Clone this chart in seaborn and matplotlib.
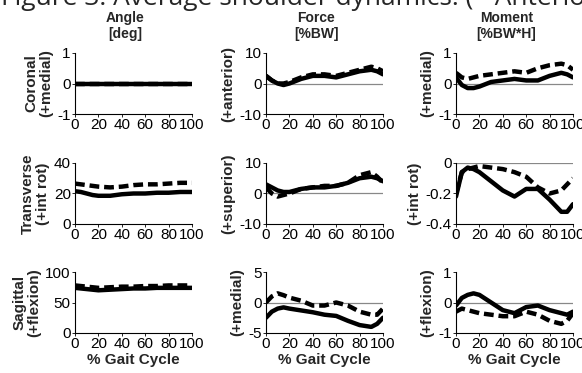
"""
Average shoulder dynamics: angle, force and moment curves over the gait cycle.
"""

import matplotlib
matplotlib.use("Agg")
import matplotlib.pyplot as plt
import seaborn as sns

sns.set_style("ticks")
plt.rcParams["font.family"] = ["Liberation Sans", "DejaVu Sans"]

# Data
GAIT = [0, 5, 10, 15, 20, 30, 40, 50, 60, 70, 80, 90, 95, 100]

ANG_COR_A = [0, 0, 0, 0, 0, 0, 0, 0, 0, 0, 0, 0, 0, 0]
ANG_COR_B = [0, 0, 0, 0, 0, 0, 0, 0, 0, 0, 0, 0, 0, 0]
ANG_TRA_A = [21.5, 21, 20, 19, 18.5, 18.5, 19.5, 20, 20, 20.5, 20.5, 21, 21, 21]
ANG_TRA_B = [26.5, 26, 25.5, 25, 24.5, 24, 24.5, 25.5, 26, 26, 26.5, 27, 27, 27]
ANG_SAG_A = [74, 73, 72, 71, 70, 71, 72, 73, 73, 74, 74, 74, 74, 74]
ANG_SAG_B = [78, 77, 76, 75, 74, 75, 76, 76, 77, 77, 78, 78, 78, 78]

FOR_COR_A = [2.5, 1, 0, -0.5, 0, 1.5, 2.5, 2.5, 2, 3, 4, 4.5, 4, 3]
FOR_COR_B = [2.5, 1, 0, 0, 0.5, 2, 3, 3, 2.5, 3.5, 4.5, 5.5, 5, 4]
FOR_TRA_A = [3, 2, 1, 0.5, 0.5, 1.5, 2, 2, 2.5, 3.5, 5, 5.5, 5, 4]
FOR_TRA_B = [2, 0, -1, -0.5, 0, 1.5, 2, 2.5, 2.5, 3.5, 6, 7, 5.5, 3.5]
FOR_SAG_A = [-2.5, -1.5, -1, -0.8, -1, -1.3, -1.6, -2, -2.2, -3, -3.7, -4, -3.5, -2.5]
FOR_SAG_B = [0, 1, 1.5, 1.2, 0.8, 0.3, -0.5, -0.5, 0, -0.5, -1.5, -2, -2, -1]

MOM_COR_A = [0.2, -0.05, -0.15, -0.15, -0.1, 0.05, 0.1, 0.15, 0.1, 0.1, 0.25, 0.35, 0.3, 0.2]
MOM_COR_B = [0.35, 0.2, 0.15, 0.2, 0.25, 0.3, 0.35, 0.4, 0.35, 0.5, 0.6, 0.65, 0.6, 0.45]
MOM_TRA_A = [-0.22, -0.06, -0.03, -0.04, -0.06, -0.12, -0.18, -0.22, -0.17, -0.17, -0.24, -0.32, -0.32, -0.27]
MOM_TRA_B = [-0.2, -0.06, -0.04, -0.03, -0.02, -0.03, -0.04, -0.06, -0.09, -0.16, -0.2, -0.18, -0.14, -0.1]
MOM_SAG_A = [-0.1, 0.15, 0.25, 0.3, 0.25, 0.0, -0.25, -0.35, -0.15, -0.1, -0.25, -0.35, -0.4, -0.3]
MOM_SAG_B = [-0.3, -0.2, -0.25, -0.3, -0.35, -0.4, -0.45, -0.45, -0.3, -0.4, -0.6, -0.7, -0.6, -0.35]

COL_HEADERS = ["Angle\n[deg]", "Force\n[%BW]", "Moment\n[%BW*H]"]
ROW_NAMES = ["Coronal", "Transverse", "Sagittal"]
Y_LABELS = [
    ["(+medial)", "(+anterior)", "(+medial)"],
    ["(+int rot)", "(+superior)", "(+int rot)"],
    ["(+flexion)", "(+medial)", "(+flexion)"],
]
Y_LIMS = [
    [(-1, 1), (-10, 10), (-1, 1)],
    [(0, 40), (-10, 10), (-0.4, 0)],
    [(0, 100), (-5, 5), (-1, 1)],
]
Y_TICKS = [
    [[-1, 0, 1], [-10, 0, 10], [-1, 0, 1]],
    [[0, 20, 40], [-10, 0, 10], [-0.4, -0.2, 0]],
    [[0, 50, 100], [-5, 0, 5], [-1, 0, 1]],
]
Y_TICKLABELS = [
    [["-1", "0", "1"], ["-10", "0", "10"], ["-1", "0", "1"]],
    [["0", "20", "40"], ["-10", "0", "10"], ["-0.4", "-0.2", "0"]],
    [["0", "50", "100"], ["-5", "0", "5"], ["-1", "0", "1"]],
]
SERIES = [
    [(ANG_COR_A, ANG_COR_B), (FOR_COR_A, FOR_COR_B), (MOM_COR_A, MOM_COR_B)],
    [(ANG_TRA_A, ANG_TRA_B), (FOR_TRA_A, FOR_TRA_B), (MOM_TRA_A, MOM_TRA_B)],
    [(ANG_SAG_A, ANG_SAG_B), (FOR_SAG_A, FOR_SAG_B), (MOM_SAG_A, MOM_SAG_B)],
]
X_TICKS = [0, 20, 40, 60, 80, 100]

W, H = 582, 373
fig = plt.figure(figsize=(W / 100, H / 100), dpi=100)
fig.patch.set_facecolor("white")

# axes geometry in pixels
lefts = [75, 266, 456]
tops = [53, 163, 272]
aw, ah = 117, 61

for r in range(3):
    for c in range(3):
        ax = fig.add_axes([lefts[c] / W, 1 - (tops[r] + ah) / H, aw / W, ah / H])
        sol, dash = SERIES[r][c]
        if c > 0:
            ax.axhline(0, color="#888888", lw=0.9, zorder=1)
        sns.lineplot(x=GAIT, y=dash, ax=ax, color="black", lw=3.2,
                     linestyle=(0, (2.2, 1.1)), zorder=3)
        sns.lineplot(x=GAIT, y=sol, ax=ax, color="black", lw=3.2, zorder=4)
        ax.set_xlim(0, 100)
        ax.set_ylim(*Y_LIMS[r][c])
        ax.set_xticks(X_TICKS)
        ax.set_xticklabels([str(t) for t in X_TICKS])
        ax.set_yticks(Y_TICKS[r][c])
        ax.set_yticklabels(Y_TICKLABELS[r][c])
        ax.tick_params(labelsize=11, length=2, width=0.6, pad=1, colors="black")
        for s in ["top", "right"]:
            ax.spines[s].set_visible(False)
        for s in ["left", "bottom"]:
            ax.spines[s].set_color("black")
            ax.spines[s].set_linewidth(0.8)
        if c == 0:
            ylab = ROW_NAMES[r] + "\n" + Y_LABELS[r][c]
        else:
            ylab = Y_LABELS[r][c]
        ax.set_ylabel(ylab, fontsize=11, fontweight="bold", labelpad=3,
                      linespacing=1.05)
        if r == 2:
            ax.set_xlabel("% Gait Cycle", fontsize=11, fontweight="bold",
                          labelpad=1)
        else:
            ax.set_xlabel("")

# column headers
for c, txt in enumerate(COL_HEADERS):
    fig.text((lefts[c] + aw / 2 - 8) / W, 1 - 26 / H, txt, ha="center",
             va="center", fontsize=10, fontweight="bold", linespacing=1.2)

# clipped figure caption at the very top
fig.text(1 / W, 1 - 5 / H, "Figure 3: Average shoulder dynamics. (* Anterior",
         ha="left", va="baseline", fontsize=19,
         family=["Open Sans", "DejaVu Sans"])

plt.savefig("out.png", dpi=100)
plt.close()
